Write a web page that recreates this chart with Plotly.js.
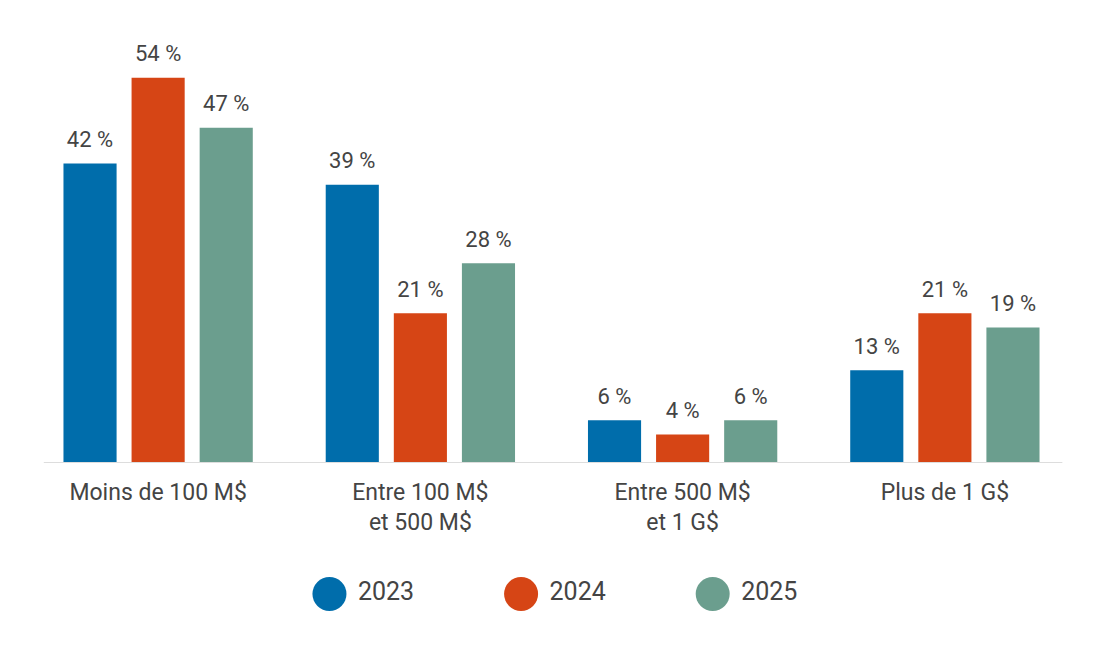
<!DOCTYPE html>
<html><head><meta charset="utf-8">
<script src="https://cdn.plot.ly/plotly-3.0.1.min.js"></script>
<style>html,body{margin:0;padding:0;background:#fff;}#chart{width:1103px;height:656px;}</style>
</head><body><div id="chart"></div>
<script>
const categories = ["Moins de 100 M$", "Entre 100 M$<br>et 500 M$", "Entre 500 M$<br>et 1 G$", "Plus de 1 G$"];
const seriesNames = ["2023", "2024", "2025"];
const v2023 = [42, 39, 6, 13];
const v2024 = [54, 21, 4, 21];
const v2025 = [47, 28, 6, 19];
const colors = ["#006DAB", "#D64515", "#6B9E8E"];

const FONT = "Roboto, 'Liberation Sans', sans-serif";
const TXT = "#444444";
const values = [v2023, v2024, v2025];

const traces = values.map((v, i) => ({
  type: "bar", x: categories, y: v, name: seriesNames[i],
  marker: {color: colors[i]}, showlegend: false, hoverinfo: "skip"
}));

values.forEach((v, i) => traces.push({
  type: "scatter", mode: "markers+text", x: categories, y: v, name: seriesNames[i] + " lbl",
  marker: {size: 16, color: "rgba(0,0,0,0)"},
  text: v.map(d => d + " %"), textposition: "top center",
  textfont: {family: FONT, size: 22, color: TXT},
  cliponaxis: false, showlegend: false, hoverinfo: "skip"
}));

traces.push({
  type: "scatter", mode: "markers+text", xaxis: "x2", yaxis: "y2",
  x: seriesNames, y: seriesNames.map(() => 0), text: seriesNames.map(s => " " + s),
  textposition: "middle right", textfont: {family: FONT, size: 25, color: TXT},
  marker: {size: 34, color: colors}, showlegend: false, cliponaxis: false, hoverinfo: "skip"
});

const layout = {
  width: 1103, height: 656,
  margin: {l: 27, r: 27, t: 35, b: 40},
  paper_bgcolor: "#fff", plot_bgcolor: "#fff",
  barmode: "group", bargap: 0.221, bargroupgap: 0.22,
  scattermode: "group", scattergap: 0.221,
  font: {family: FONT, color: TXT},
  xaxis: {domain: [0, 1], showgrid: false, zeroline: false, showline: false, ticks: "",
          tickfont: {family: FONT, size: 23, color: TXT}, ticklabelstandoff: 13, fixedrange: true},
  yaxis: {domain: [0.2633, 1], range: [0, 60], visible: false, fixedrange: true},
  xaxis2: {domain: [0.197, 0.745], anchor: "y2", range: [-0.5, 2.5], type: "category", visible: false},
  yaxis2: {domain: [0, 0.076], anchor: "x2", range: [-1, 1], visible: false},
  shapes: [{type: "line", xref: "paper", yref: "y", x0: 0.016, x1: 0.987, y0: 0, y1: 0,
            line: {color: "#DDDDDD", width: 2}}],
  showlegend: false
};

Plotly.newPlot("chart", traces, layout, {displayModeBar: false, staticPlot: true});
</script>
</body></html>
